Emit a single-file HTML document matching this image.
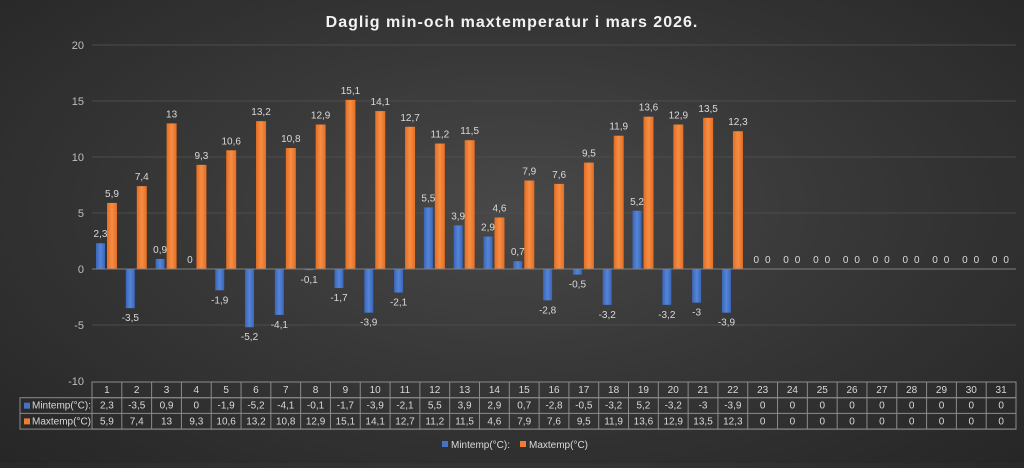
<!DOCTYPE html>
<html><head><meta charset="utf-8"><style>
html,body{margin:0;padding:0;}
body{width:1024px;height:463px;overflow:hidden;background:radial-gradient(ellipse at 50% 45%,#484848 0%,#363636 50%,#262626 100%);font-family:"Liberation Sans",sans-serif;}
</style></head><body>
<svg width="1024" height="463" xmlns="http://www.w3.org/2000/svg" font-family="Liberation Sans, sans-serif">
<text x="512" y="27" text-anchor="middle" fill="#f2f2f2" font-size="16" font-weight="bold" letter-spacing="1">Daglig min-och maxtemperatur i mars 2026.</text>
<g id="g"></g>
</svg>
<script>
const mn=[2.3,-3.5,0.9,0,-1.9,-5.2,-4.1,-0.1,-1.7,-3.9,-2.1,5.5,3.9,2.9,0.7,-2.8,-0.5,-3.2,5.2,-3.2,-3,-3.9,0,0,0,0,0,0,0,0,0];
const mx=[5.9,7.4,13,9.3,10.6,13.2,10.8,12.9,15.1,14.1,12.7,11.2,11.5,4.6,7.9,7.6,9.5,11.9,13.6,12.9,13.5,12.3,0,0,0,0,0,0,0,0,0];
const L=92,R=1016,cw=(R-L)/31,y0=269,u=11.2;
const Y=v=>y0-v*u;const f=v=>String(v).replace('.',',');
let s='';
for(let v=-10;v<=20;v+=5){const y=Y(v);if(v!=0&&v!=-10)s+=`<line x1="${L}" x2="${R}" y1="${y}" y2="${y}" stroke="#4c4c4c"/>`;s+=`<text x="${L-8}" y="${y+4}" text-anchor="end" fill="#bfbfbf" font-size="11">${v}</text>`;}
for(let i=0;i<31;i++){const x=L+i*cw;
 if(i<22){const a=mn[i],b=mx[i];
  const by=Math.min(Y(a),y0),bh=Math.abs(a*u);
  s+=`<rect x="${x+4}" y="${by}" width="9" height="${bh}" fill="url(#bl)"/>`;
  s+=`<rect x="${x+15}" y="${Y(b)}" width="10" height="${b*u}" fill="url(#or)"/>`;
  const ty=a>=0?Y(a)-6:Y(a)+13;
  s+=`<text x="${x+8.5}" y="${ty}" text-anchor="middle" fill="#d9d9d9" font-size="10">${f(a)}</text>`;
  s+=`<text x="${x+20}" y="${Y(b)-6}" text-anchor="middle" fill="#d9d9d9" font-size="10">${f(b)}</text>`;
 }else{
  s+=`<text x="${x+8.5}" y="${y0-6}" text-anchor="middle" fill="#d9d9d9" font-size="10">0</text><text x="${x+20}" y="${y0-6}" text-anchor="middle" fill="#d9d9d9" font-size="10">0</text>`;
 }
}
s+=`<line x1="${L}" x2="${R}" y1="${y0}" y2="${y0}" stroke="#808080"/>`;
// table
const t0=382,rh=15.7;
s+=`<rect x="${L}" y="${t0}" width="${R-L}" height="${rh*3}" fill="none" stroke="#8c8c8c"/>`;
s+=`<rect x="20" y="${t0+rh}" width="${R-20}" height="${rh*2}" fill="none" stroke="#8c8c8c"/>`;
s+=`<line x1="20" x2="${R}" y1="${t0+rh*2}" y2="${t0+rh*2}" stroke="#8c8c8c"/>`;
s+=`<line x1="${L}" x2="${R}" y1="${t0+rh}" y2="${t0+rh}" stroke="#8c8c8c"/>`;
for(let i=1;i<31;i++){const x=L+i*cw;s+=`<line x1="${x}" x2="${x}" y1="${t0}" y2="${t0+rh*3}" stroke="#8c8c8c"/>`;}
for(let i=0;i<31;i++){const x=L+i*cw+cw/2;
 s+=`<text x="${x}" y="${t0+11}" text-anchor="middle" fill="#d9d9d9" font-size="10">${i+1}</text>`;
 s+=`<text x="${x}" y="${t0+rh+11}" text-anchor="middle" fill="#d9d9d9" font-size="10">${f(mn[i])}</text>`;
 s+=`<text x="${x}" y="${t0+rh*2+11}" text-anchor="middle" fill="#d9d9d9" font-size="10">${f(mx[i])}</text>`;}
s+=`<rect x="24" y="${t0+rh+5}" width="6" height="6" fill="#4472c4"/><text x="32" y="${t0+rh+11}" fill="#d9d9d9" font-size="10">Mintemp(°C):</text>`;
s+=`<rect x="24" y="${t0+rh*2+5}" width="6" height="6" fill="#ed7d31"/><text x="32" y="${t0+rh*2+11}" fill="#d9d9d9" font-size="10">Maxtemp(°C)</text>`;
// legend
s+=`<rect x="442" y="441" width="6" height="6" fill="#4472c4"/><text x="451" y="448" fill="#d9d9d9" font-size="10">Mintemp(°C):</text>`;
s+=`<rect x="520" y="441" width="6" height="6" fill="#ed7d31"/><text x="529" y="448" fill="#d9d9d9" font-size="10">Maxtemp(°C)</text>`;
const defs=`<defs><linearGradient id="bl" x1="0" x2="1"><stop offset="0" stop-color="#3a66b8"/><stop offset="0.5" stop-color="#5585d8"/><stop offset="1" stop-color="#3a66b8"/></linearGradient><linearGradient id="or" x1="0" x2="1"><stop offset="0" stop-color="#e46e22"/><stop offset="0.5" stop-color="#f68d45"/><stop offset="1" stop-color="#e46e22"/></linearGradient></defs>`;
document.getElementById('g').innerHTML=defs+s;
</script>
</body></html>
